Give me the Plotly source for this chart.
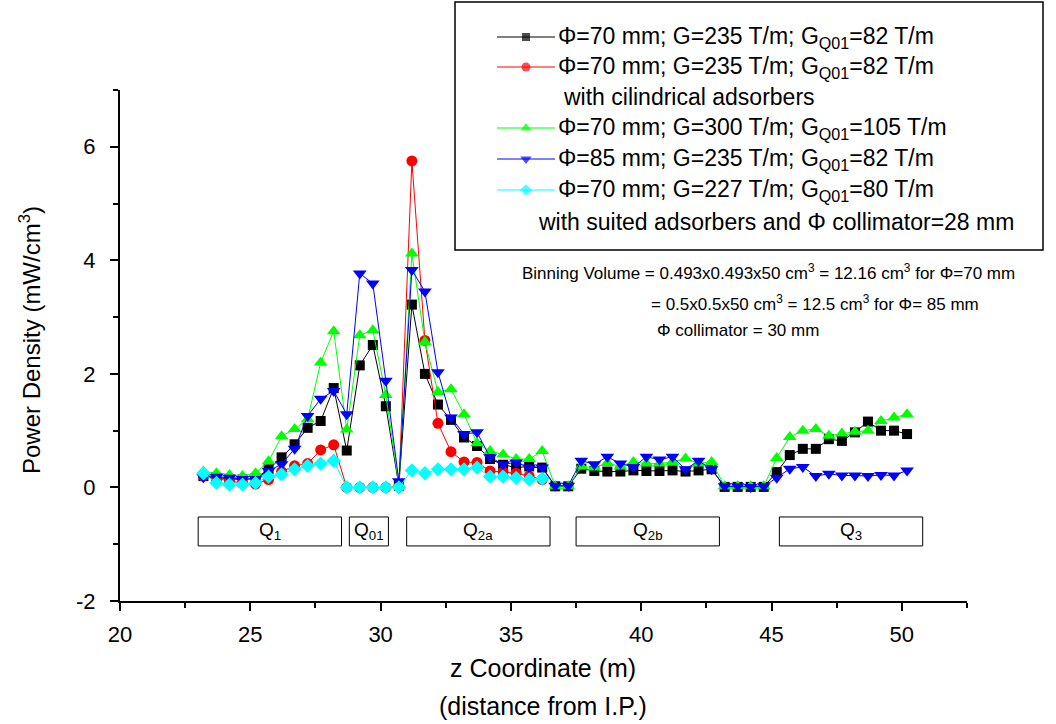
import plotly.graph_objects as go

W, H = 1056, 724

# ---------------- data ----------------
z = [23.2, 23.7, 24.2, 24.7, 25.2, 25.7, 26.2, 26.7, 27.2, 27.7,
     28.2, 28.7, 29.2, 29.7, 30.2, 30.7, 31.2, 31.7, 32.2, 32.7,
     33.2, 33.7, 34.2, 34.7, 35.2, 35.7, 36.2, 36.7, 37.2, 37.7,
     38.2, 38.7, 39.2, 39.7, 40.2, 40.7, 41.2, 41.7, 42.2, 42.7,
     43.2, 43.7, 44.2, 44.7, 45.2, 45.7, 46.2, 46.7, 47.2, 47.7,
     48.2, 48.7, 49.2, 49.7, 50.2]

black = [0.20, 0.17, 0.15, 0.14, 0.16, 0.32, 0.53, 0.76, 1.05, 1.17,
         1.75, 0.65, 2.15, 2.51, 1.43, 0.03, 3.22, 2.00, 1.46, 1.19,
         0.88, 0.73, 0.50, 0.40, 0.35, 0.37, 0.35, 0.02, 0.02, 0.33,
         0.29, 0.28, 0.28, 0.30, 0.29, 0.29, 0.30, 0.28, 0.30, 0.32,
         0.01, 0.01, 0.01, 0.01, 0.27, 0.57, 0.68, 0.68, 0.85, 0.82,
         0.97, 1.16, 1.00, 1.00, 0.94]

red = [0.20, 0.15, 0.12, 0.07, 0.06, 0.14, 0.28, 0.38, 0.42, 0.66,
       0.75, 0.00, 0.00, 0.00, 0.00, 0.02, 5.75, 2.59, 1.13, 0.63,
       0.45, 0.44, 0.29, 0.27, 0.25, 0.20, 0.14]

green = [0.28, 0.25, 0.22, 0.20, 0.25, 0.46, 0.90, 1.03, 1.20, 2.20,
         2.75, 1.02, 2.68, 2.77, 1.63, 0.05, 4.12, 2.56, 1.68, 1.73,
         1.29, 0.78, 0.64, 0.58, 0.50, 0.50, 0.64, 0.02, 0.02, 0.37,
         0.35, 0.43, 0.37, 0.45, 0.42, 0.42, 0.45, 0.51, 0.42, 0.45,
         0.02, 0.02, 0.02, 0.02, 0.52, 0.89, 1.00, 1.03, 0.91, 0.95,
         0.98, 1.00, 1.17, 1.23, 1.29]

blue = [0.18, 0.19, 0.17, 0.15, 0.15, 0.29, 0.41, 0.68, 1.26, 1.56,
        1.70, 1.29, 3.77, 3.59, 1.88, 0.11, 3.83, 3.45, 2.03, 1.23,
        0.94, 0.97, 0.53, 0.41, 0.44, 0.35, 0.35, 0.03, 0.03, 0.47,
        0.41, 0.54, 0.42, 0.36, 0.54, 0.49, 0.54, 0.32, 0.47, 0.32,
        0.02, 0.02, 0.01, 0.02, 0.17, 0.33, 0.36, 0.20, 0.24, 0.21,
        0.21, 0.20, 0.22, 0.21, 0.30]

cyan = [0.25, 0.08, 0.05, 0.05, 0.08, 0.19, 0.23, 0.32, 0.38, 0.42,
        0.47, 0.00, 0.00, 0.00, 0.00, 0.00, 0.30, 0.25, 0.32, 0.32,
        0.32, 0.35, 0.19, 0.19, 0.17, 0.14, 0.15]

# magnet regions (label, z start, z end)
magnets = [("Q<sub>1</sub>", 23.0, 28.5),
           ("Q<sub>01</sub>", 28.8, 30.3),
           ("Q<sub>2a</sub>", 31.0, 36.5),
           ("Q<sub>2b</sub>", 37.5, 43.0),
           ("Q<sub>3</sub>", 45.3, 50.8)]
mag_y = [-1.03, -0.52]

y_ticks = [-2, 0, 2, 4, 6]
y_ticktext = ["-2", "0", "2", "4", "6"]

series = [
    ("Φ=70 mm; G=235 T/m; G<sub>Q01</sub>=82 T/m", "", black, "#000000", "square", 10),
    ("Φ=70 mm; G=235 T/m; G<sub>Q01</sub>=82 T/m", "with cilindrical adsorbers", red, "#FF0000", "circle", 11),
    ("Φ=70 mm; G=300 T/m; G<sub>Q01</sub>=105 T/m", "", green, "#00FF00", "triangle-up", 12),
    ("Φ=85 mm; G=235 T/m; G<sub>Q01</sub>=82 T/m", "", blue, "#0000FF", "triangle-down", 12),
    ("Φ=70 mm; G=227 T/m; G<sub>Q01</sub>=80 T/m",
     "with suited adsorbers and Φ collimator=28 mm", cyan, "#00FFFF", "diamond", 11),
]

FONT = "Liberation Sans, Arial, sans-serif"

fig = go.Figure()

for name, sub, vals, col, sym, size in series:
    fig.add_trace(go.Scatter(
        x=z[:len(vals)], y=vals, mode="lines+markers",
        line=dict(color=col, width=1),
        marker=dict(symbol=sym, size=size, color=col, line=dict(width=0)),
        showlegend=False, xaxis="x", yaxis="y"))

# ---- custom legend drawn in a full-figure pixel subplot ----
leg_rows = [37, 67, 128, 159, 190]
for (name, sub, vals, col, sym, size), ry in zip(series, leg_rows):
    fig.add_trace(go.Scatter(
        x=[497, 526, 555], y=[ry, ry, ry], mode="lines+markers",
        line=dict(color=col, width=1),
        marker=dict(symbol=sym, size=[0, size - 2, 0], color=col, line=dict(width=0)),
        showlegend=False, xaxis="x2", yaxis="y2", hoverinfo="skip"))

LEG_FS = 23
annotations = []
sub_rows = {1: 97, 4: 222}
sub_x = {1: 561, 4: 536}
for k, ((name, sub, vals, col, sym, size), ry) in enumerate(zip(series, leg_rows)):
    annotations.append(dict(x=556, y=ry, xref="x2", yref="y2", text=name,
                            showarrow=False, xanchor="left", yanchor="middle",
                            font=dict(family=FONT, size=LEG_FS, color="black")))
    if sub:
        annotations.append(dict(x=sub_x[k], y=sub_rows[k], xref="x2", yref="y2",
                                text=sub, showarrow=False, xanchor="left", yanchor="middle",
                                font=dict(family=FONT, size=LEG_FS, color="black")))

# binning note
notes = [("Binning Volume = 0.493x0.493x50 cm<sup>3</sup> = 12.16 cm<sup>3</sup> for Φ=70 mm", 520, 272),
         ("= 0.5x0.5x50 cm<sup>3</sup> = 12.5 cm<sup>3</sup> for Φ= 85 mm", 649, 303),
         ("Φ collimator = 30 mm", 655, 330)]
for t, nx, ny in notes:
    annotations.append(dict(x=nx, y=ny, xref="x2", yref="y2", text=t, showarrow=False,
                            xanchor="left", yanchor="middle",
                            font=dict(family=FONT, size=17, color="black")))

# axis titles
annotations.append(dict(x=543, y=668, xref="x2", yref="y2", text="z Coordinate (m)",
                        showarrow=False, xanchor="center", yanchor="middle",
                        font=dict(family=FONT, size=25, color="black")))
annotations.append(dict(x=543, y=706, xref="x2", yref="y2", text="(distance from I.P.)",
                        showarrow=False, xanchor="center", yanchor="middle",
                        font=dict(family=FONT, size=25, color="black")))
annotations.append(dict(x=30, y=340, xref="x2", yref="y2", text="Power Density (mW/cm<sup>3</sup>)",
                        showarrow=False, xanchor="center", yanchor="middle", textangle=-90,
                        font=dict(family=FONT, size=24, color="black")))

shapes = [dict(type="rect", xref="x2", yref="y2", x0=455, x1=1043, y0=2, y1=250,
               line=dict(color="black", width=1.5), fillcolor="rgba(0,0,0,0)", layer="above")]

for lab, a, b in magnets:
    shapes.append(dict(type="rect", xref="x", yref="y", x0=a, x1=b, y0=mag_y[0], y1=mag_y[1],
                       line=dict(color="black", width=1), fillcolor="white", layer="below"))
    annotations.append(dict(x=(a + b) / 2, y=(mag_y[0] + mag_y[1]) / 2, xref="x", yref="y",
                            text=lab, showarrow=False, xanchor="center", yanchor="middle",
                            font=dict(family=FONT, size=19, color="black")))

x0p, x1p = 120, 967
y0p, y1p = 90, 601

fig.update_layout(
    width=W, height=H,
    margin=dict(l=0, r=0, t=0, b=0, autoexpand=False),
    paper_bgcolor="white", plot_bgcolor="rgba(0,0,0,0)",
    font=dict(family=FONT, color="black"),
    xaxis=dict(domain=[x0p / W, x1p / W], range=[20, 52.5], tick0=20, dtick=5,
               showgrid=False, zeroline=False, showline=True, linecolor="black", linewidth=2,
               ticks="outside", ticklen=8, tickwidth=2, tickcolor="black",
               minor=dict(ticks="outside", ticklen=5, tickwidth=2, tickcolor="black", dtick=2.5),
               tickfont=dict(family=FONT, size=22), anchor="y", automargin=False,
               ticklabelstandoff=5),
    yaxis=dict(domain=[1 - y1p / H, 1 - y0p / H], range=[-2, 7],
               tickmode="array", tickvals=y_ticks, ticktext=y_ticktext,
               showgrid=False, zeroline=False, showline=True, linecolor="black", linewidth=2,
               ticks="outside", ticklen=8, tickwidth=2, tickcolor="black",
               minor=dict(ticks="outside", ticklen=5, tickwidth=2, tickcolor="black", dtick=1, tick0=0),
               tickfont=dict(family=FONT, size=22), anchor="x", automargin=False,
               ticklabelstandoff=10),
    xaxis2=dict(domain=[0, 1], range=[0, W], visible=False, anchor="y2", fixedrange=True),
    yaxis2=dict(domain=[0, 1], range=[H, 0], visible=False, anchor="x2", fixedrange=True),
    shapes=shapes, annotations=annotations,
    showlegend=False,
)

fig.write_html("out.html")
